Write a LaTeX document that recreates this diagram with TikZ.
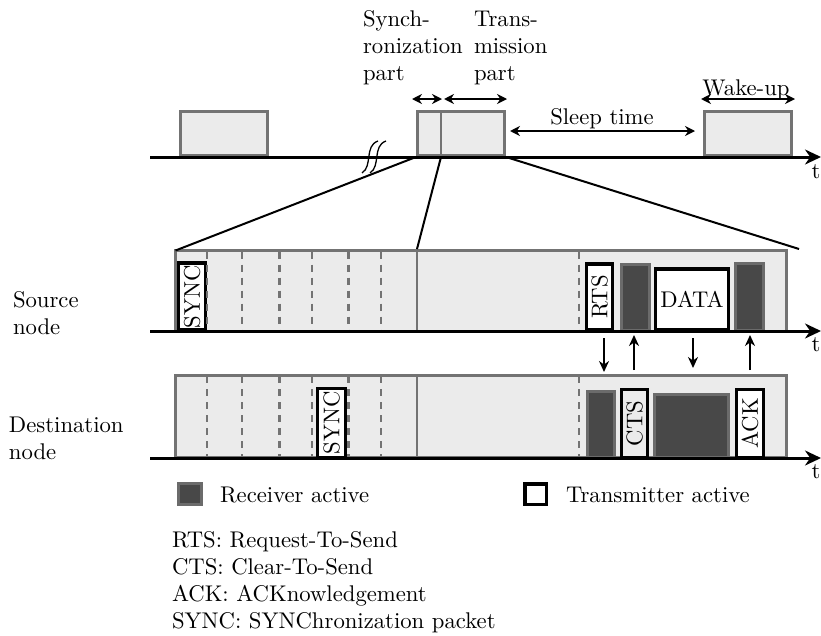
\documentclass[tikz,border=0pt]{standalone}
\usepackage{fontspec}
\setmainfont{lmroman10-regular.otf}
\usetikzlibrary{arrows.meta}
\definecolor{boxgray}{HTML}{737373}
\definecolor{bggray}{HTML}{EBEBEB}
\definecolor{rxfill}{HTML}{484848}
\definecolor{rxborder}{HTML}{6B6B6B}
\begin{document}
\begin{tikzpicture}[x=1pt,y=-1pt,
  every node/.style={font=\fontsize{22.7}{27}\selectfont, inner sep=0pt, outer sep=0pt},
  slot/.style={draw=boxgray, fill=bggray, line width=3pt},
  rxbox/.style={draw=rxborder, fill=rxfill, line width=3pt},
  txbox/.style={draw=black, fill=white, line width=3.5pt},
  txclear/.style={draw=black, line width=3.5pt},
  axisline/.style={line width=3pt, -{Stealth[length=16pt,width=15pt]}},
  dimline/.style={line width=2pt, {Stealth[length=10pt,width=10pt]}-{Stealth[length=10pt,width=10pt]}},
  msgline/.style={line width=2pt, -{Stealth[length=11pt,width=10pt]}},
  slotdash/.style={draw=boxgray, line width=2.5pt, dash pattern=on 7pt off 6pt},
  slotsolid/.style={draw=boxgray, line width=2.5pt},
  zoomline/.style={line width=2pt}]
\useasboundingbox (0,0) rectangle (821,635);

% ---------- top timeline ----------
\node[slot, minimum width=87pt, minimum height=44pt] (tA) at (224,133.5) {};
\node[slot, minimum width=87pt, minimum height=44pt] (tB) at (461,133.5) {};
\node[slot, minimum width=87pt, minimum height=44pt] (tC) at (748,133.5) {};
\coordinate (divtop) at (441,111.5);
\coordinate (divbot) at (441,157);
\draw[slotsolid, line width=2pt] (divtop) -- (divbot);

\coordinate (ax1s) at (150,157);
\coordinate (ax1e) at (821,157);
\draw[axisline] (ax1s) -- (ax1e);
\node (t1) at (816,172) {t};

% break symbol
\draw[line width=1.3pt] (362,173) .. controls (373,166) and (364,146) .. (378,141);
\draw[line width=1.3pt] (370,173) .. controls (381,166) and (372,146) .. (386,141);

% dimension arrows
\coordinate (syA) at (412,99);
\coordinate (syB) at (442,99);
\coordinate (trA) at (444,99);
\coordinate (trB) at (507,99);
\coordinate (slA) at (510,131);
\coordinate (slB) at (695,131);
\coordinate (wkA) at (701,99);
\coordinate (wkB) at (795,99);
\draw[dimline] (syA) -- (syB);
\draw[dimline] (trA) -- (trB);
\draw[dimline] (slA) -- (slB);
\draw[dimline] (wkA) -- (wkB);

\node[anchor=base west, align=left] (synlab) at (363,80) {Synch-\\ronization\\part};
\node[anchor=base west, align=left] (trlab) at (474,80) {Trans-\\mission\\part};
\node[anchor=base] (sleeplab) at (602,124) {Sleep time};
\node[anchor=base] (wakelab) at (746,95) {Wake-up};

% ---------- source node ----------
\node[slot, minimum width=611pt, minimum height=80.5pt] (src) at (481,290.75) {};
\node[txbox, rotate=90, minimum width=67pt, minimum height=27pt] (ssync) at (192,296.5) {SYNC};
\node[txbox, rotate=90, minimum width=66pt, minimum height=26pt] (rts) at (599.5,297) {RTS};
\node[rxbox, minimum width=28pt, minimum height=66pt] (srx1) at (635.5,297) {};
\node[txbox, minimum width=73pt, minimum height=61pt] (data) at (692,299.5) {DATA};
\node[rxbox, minimum width=28pt, minimum height=67pt] (srx2) at (749.5,296.5) {};

\foreach \xx in {207,242,279.5,312,348.5,381,579}
  \draw[slotdash] (\xx,251.5) -- (\xx,331);
\draw[slotsolid] (417,251.5) -- (417,331);

\coordinate (ax2s) at (150,331);
\coordinate (ax2e) at (821,331);
\draw[axisline] (ax2s) -- (ax2e);
\node (t2) at (816,345) {t};

\node[anchor=base west, align=left] (srclab) at (13,334) {Source\\node};

% ---------- destination node ----------
\node[slot, minimum width=611pt, minimum height=82pt] (dst) at (481,416) {};
\node[txbox, rotate=90, minimum width=69pt, minimum height=28pt] (dsync) at (331.5,423) {SYNC};
\node[rxbox, minimum width=27pt, minimum height=66pt] (drx1) at (601,424.5) {};
\node[txclear, rotate=90, minimum width=68pt, minimum height=26pt] (cts) at (634.5,423.5) {CTS};
\node[rxbox, minimum width=74pt, minimum height=63pt] (drx2) at (691.5,426) {};
\node[txbox, rotate=90, minimum width=68pt, minimum height=27pt] (ack) at (750,423.5) {ACK};

\foreach \xx in {207,242,279.5,312,348.5,381,579}
  \draw[slotdash] (\xx,376) -- (\xx,458);
\draw[slotsolid] (417,376) -- (417,458);

\coordinate (ax3s) at (150,458);
\coordinate (ax3e) at (821,458);
\draw[axisline] (ax3s) -- (ax3e);
\node (t3) at (816,472) {t};

\node[anchor=base west, align=left] (dstlab) at (9,459) {Destination\\node};

% ---------- zoom lines ----------
\coordinate (zr) at (799,249);
\draw[zoomline] (416,157) -- (src.north west);
\draw[zoomline] (divbot) -- (417,249);
\draw[zoomline] (506,157) -- (zr);

% ---------- message arrows ----------
\coordinate (m1a) at (604,338); \coordinate (m1b) at (604,372);
\coordinate (m2a) at (634,370); \coordinate (m2b) at (634,335);
\coordinate (m3a) at (693,338); \coordinate (m3b) at (693,368);
\coordinate (m4a) at (750,370); \coordinate (m4b) at (750,335);
\draw[msgline] (m1a) -- (m1b);
\draw[msgline] (m2a) -- (m2b);
\draw[msgline] (m3a) -- (m3b);
\draw[msgline] (m4a) -- (m4b);

% ---------- legend ----------
\node[rxbox, minimum width=23pt, minimum height=21pt] (legrx) at (190,494) {};
\node[anchor=base west] (legrxlab) at (220,502) {Receiver active};
\node[txbox, minimum width=21.5pt, minimum height=20.5pt] (legtx) at (535.5,494) {};
\node[anchor=base west] (legtxlab) at (566,502) {Transmitter active};

\node[anchor=base west] (ab1) at (172,547) {RTS: Request-To-Send};
\node[anchor=base west] (ab2) at (172,574) {CTS: Clear-To-Send};
\node[anchor=base west] (ab3) at (172,601) {ACK: ACKnowledgement};
\node[anchor=base west] (ab4) at (172,628) {SYNC: SYNChronization packet};
\end{tikzpicture}
\end{document}
